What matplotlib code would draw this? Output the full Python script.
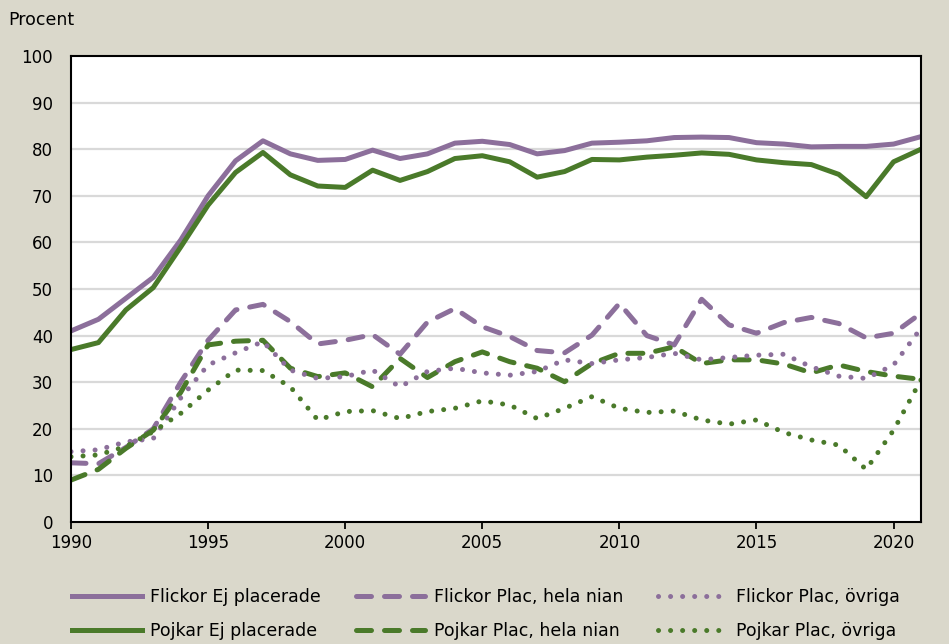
import matplotlib
matplotlib.use("Agg")
import matplotlib.pyplot as plt
import numpy as np

years = list(range(1990, 2022))

flickor_ej = [41, 43.5, 48, 52.5, 60.5, 70, 77.5, 81.8, 79, 77.6, 77.8, 79.8, 78, 79, 81.3, 81.7,
              81, 79, 79.7, 81.3, 81.5, 81.8, 82.5, 82.6, 82.5, 81.4, 81.1, 80.5, 80.6, 80.6, 81.1, 82.7]
pojkar_ej = [37, 38.5, 45.5, 50.3, 59, 68, 75, 79.3, 74.5, 72.1, 71.8, 75.5, 73.3, 75.2, 78, 78.6,
             77.3, 74, 75.2, 77.8, 77.7, 78.3, 78.7, 79.2, 78.9, 77.7, 77.1, 76.7, 74.6, 69.8, 77.3, 80]
flickor_hela = [12.7, 12.5, 16, 20, 30, 39, 45.5, 46.7, 43, 38.2, 39, 40.2, 36, 42.9, 45.8, 41.9,
                39.8, 36.8, 36.3, 40.1, 46.9, 40, 38, 47.8, 42.3, 40.5, 42.8, 43.9, 42.6, 39.5, 40.5, 44.8]
pojkar_hela = [9, 11.3, 15.8, 19.7, 27.8, 38, 38.8, 39, 33, 31.2, 32, 29, 35.1, 31, 34.4, 36.5,
               34.4, 33, 30.1, 34, 36.2, 36.2, 37.6, 34, 34.8, 34.8, 33.9, 32, 33.7, 32.3, 31.3, 30.6]
flickor_ovr = [15.1, 15.5, 17.2, 17.9, 26.6, 33.7, 36.3, 38.7, 32.6, 30.8, 31.2, 32.6, 29, 32.3, 33, 32,
               31.5, 32.3, 34.8, 34, 34.8, 35.3, 36.2, 34.8, 35.3, 35.8, 36, 33.3, 31.3, 30.8, 33.7, 41.6]
pojkar_ovr = [14, 14.4, 16.2, 19.4, 23.3, 28.3, 32.6, 32.5, 29, 21.9, 23.7, 23.9, 22.2, 23.7, 24.4, 26,
              25.1, 22.2, 24.4, 26.9, 24.4, 23.5, 23.8, 21.9, 21, 21.9, 19.2, 17.6, 16.5, 11.3, 19.7, 30.5]

labels = ["Flickor Ej placerade", "Pojkar Ej placerade",
          "Flickor Plac, hela nian", "Pojkar Plac, hela nian",
          "Flickor Plac, övriga", "Pojkar Plac, övriga"]

purple = "#8C6F9B"
green = "#4A7A2A"
bg = "#DAD8CB"

plt.rcParams['font.family'] = ['DejaVu Sans']

fig = plt.figure(figsize=(9.49, 6.44), dpi=100, facecolor=bg)
ax = fig.add_axes([71/949, 1-522/644, (921-71)/949, (522-56)/644])
ax.set_facecolor("white")

lw = 3.6
series = [
    (flickor_ej, purple, "solid"),
    (pojkar_ej, green, "solid"),
    (flickor_hela, purple, "dash"),
    (pojkar_hela, green, "dash"),
    (flickor_ovr, purple, "dot"),
    (pojkar_ovr, green, "dot"),
]
handles = []
for (vals, col, st), lab in zip(series, labels):
    if st == "solid":
        h, = ax.plot(years, vals, color=col, lw=lw, solid_joinstyle="round", label=lab)
    elif st == "dash":
        h, = ax.plot(years, vals, color=col, lw=lw, dashes=(3.0, 2.6), dash_capstyle="round",
                     label=lab)
    else:
        h, = ax.plot(years, vals, color=col, lw=lw, dashes=(0.01, 2.4), dash_capstyle="round",
                     label=lab)
    handles.append(h)

ax.set_xlim(1990, 2021)
ax.set_ylim(0, 100)
ax.set_yticks(range(0, 101, 10))
ax.set_xticks(range(1990, 2021, 5))
for v in range(10, 100, 10):
    ax.axhline(v, color="#D9D9D9", lw=1.6, zorder=0)
for s in ax.spines.values():
    s.set_color("black")
    s.set_linewidth(1.5)
ax.tick_params(axis="y", length=0, pad=13, labelsize=12, colors="black")
ax.tick_params(axis="x", length=5, width=1.3, direction="out", pad=4, labelsize=12)

fig.text(8/949, 1-20/644, "Procent", fontsize=12.5, va="center", ha="left")

leg = fig.legend(handles=handles, labels=labels, ncol=3, loc="center",
                 bbox_to_anchor=(486/949, 1-614/644), frameon=False, fontsize=12.5,
                 handlelength=4.0, handletextpad=0.5, columnspacing=2.0,
                 labelspacing=0.95)

fig.savefig("out.png", dpi=100, facecolor=bg)
